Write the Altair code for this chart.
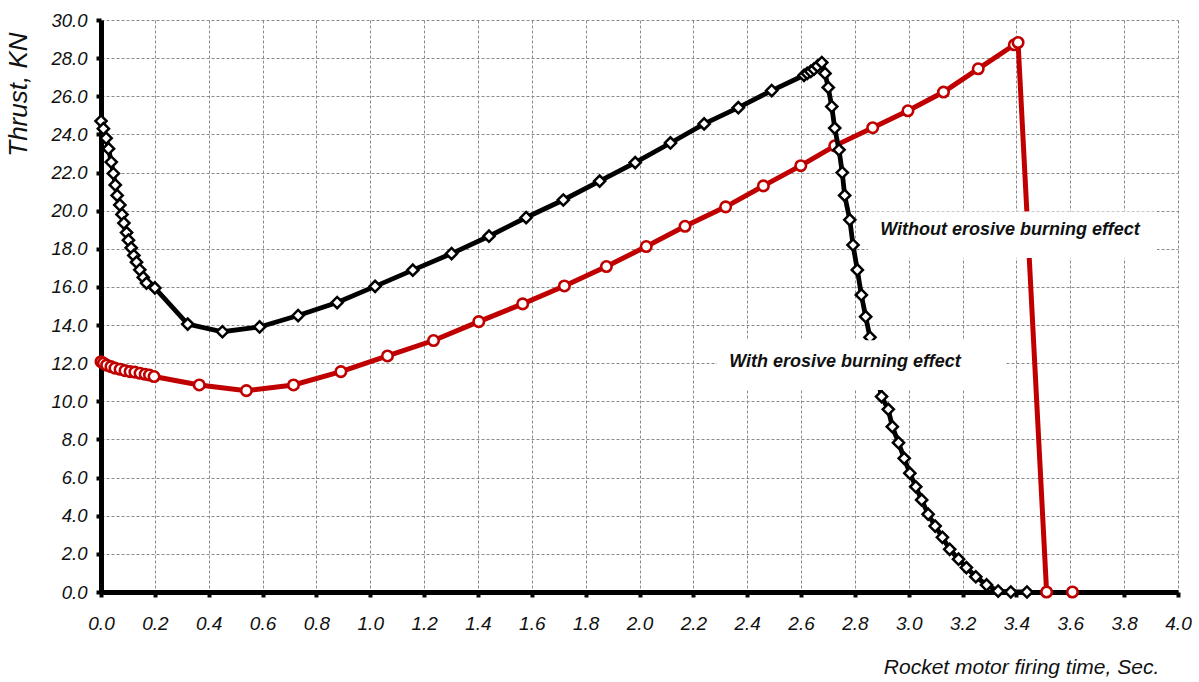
import altair as alt
import pandas as pd

# ---- data ----
black_t = [0.0, 0.009, 0.019, 0.028, 0.038, 0.046, 0.053, 0.060, 0.070, 0.078, 0.085, 0.095,
           0.102, 0.112, 0.122, 0.132, 0.144, 0.157, 0.169, 0.2, 0.322, 0.451, 0.589, 0.732,
           0.877, 1.018, 1.158, 1.302, 1.441, 1.579, 1.717, 1.852, 1.984, 2.115, 2.24, 2.367,
           2.491, 2.611, 2.623, 2.636, 2.648, 2.661, 2.677, 2.689, 2.701, 2.714, 2.725, 2.741,
           2.753, 2.762, 2.781, 2.793, 2.809, 2.824, 2.840, 2.856, 2.866, 2.877, 2.888, 2.899,
           2.924, 2.939, 2.962, 2.983, 3.004, 3.026, 3.048, 3.072, 3.098, 3.125, 3.152, 3.185,
           3.214, 3.249, 3.289, 3.332, 3.379, 3.439]
black_v = [24.7, 24.3, 23.8, 23.25, 22.55, 21.95, 21.35, 20.8, 20.3, 19.8, 19.35, 18.85,
           18.45, 18.05, 17.65, 17.3, 16.9, 16.5, 16.2, 15.95, 14.05, 13.65, 13.9, 14.5,
           15.18, 16.03, 16.88, 17.75, 18.66, 19.64, 20.56, 21.55, 22.52, 23.55, 24.55, 25.4,
           26.3, 27.1, 27.2, 27.3, 27.42, 27.58, 27.77, 27.2, 26.46, 25.46, 24.33, 23.19,
           22.0, 20.8, 19.52, 18.2, 16.89, 15.58, 14.44, 13.36, 12.6, 11.8, 11.0, 10.25,
           9.58, 8.67, 7.83, 7.01, 6.23, 5.52, 4.83, 4.08, 3.46, 2.87, 2.24, 1.72,
           1.28, 0.80, 0.37, 0.05, 0.0, 0.0]

red_t = [0.0, 0.009, 0.021, 0.037, 0.052, 0.071, 0.089, 0.108, 0.126, 0.145, 0.164, 0.180,
         0.197, 0.365, 0.54, 0.715, 0.891, 1.064, 1.235, 1.403, 1.566, 1.721, 1.877, 2.025,
         2.169, 2.32, 2.46, 2.599, 2.725, 2.866, 2.997, 3.129, 3.258, 3.392, 3.406, 3.512, 3.608]
red_v = [12.08, 12.0, 11.9, 11.82, 11.74, 11.68, 11.61, 11.56, 11.53, 11.47, 11.42, 11.38,
         11.3, 10.86, 10.56, 10.86, 11.56, 12.38, 13.19, 14.18, 15.11, 16.05, 17.07, 18.12,
         19.18, 20.2, 21.3, 22.36, 23.4, 24.35, 25.24, 26.22, 27.44, 28.7, 28.82, 0.0, 0.0]

x_ticks = [round(i * 0.2, 1) for i in range(21)]
y_ticks = [float(v) for v in range(0, 31, 2)]

labels = ["Without erosive burning effect", "With erosive burning effect"]
label_t = [3.376, 2.763]
label_v = [18.98, 12.06]
box_t1 = [2.849, 2.288]
box_t2 = [3.922, 3.357]
box_v1 = [17.52, 10.59]
box_v2 = [19.95, 13.21]

black = pd.DataFrame({"t": black_t, "v": black_v})
red = pd.DataFrame({"t": red_t, "v": red_v})
ann = pd.DataFrame({"label": labels, "t": label_t, "v": label_v,
                    "t1": box_t1, "t2": box_t2, "v1": box_v1, "v2": box_v2})

xscale = alt.Scale(domain=[0, 4], nice=False, zero=False)
yscale = alt.Scale(domain=[0, 30], nice=False)

xaxis = alt.Axis(values=x_ticks, tickCount=50, format=".1f", grid=True, gridDash=[3, 2],
                 gridColor="#8a8a8a", gridWidth=1, domainColor="black", domainWidth=5,
                 tickColor="black", tickWidth=4, tickSize=5, labelFont="Liberation Sans",
                 labelFontStyle="italic", labelFontSize=19, labelColor="#111111",
                 labelPadding=17, labelFlush=False, labelOverlap=False, labelBound=False,
                 title="Rocket motor firing time, Sec.", titleFont="Liberation Sans",
                 titleFontStyle="italic", titleFontWeight="normal", titleFontSize=21,
                 titleColor="#111111", titleX=920, titleY=81, titleAlign="center",
                 titleBaseline="alphabetic")
yaxis = alt.Axis(values=y_ticks, tickCount=50, format=".1f", grid=True, gridDash=[3, 2],
                 gridColor="#8a8a8a", gridWidth=1, domainColor="black", domainWidth=5,
                 tickColor="black", tickWidth=4, tickSize=5, labelFont="Liberation Sans",
                 labelFontStyle="italic", labelFontSize=18.5, labelColor="#111111",
                 labelPadding=9, labelFlush=False, labelOverlap=False, labelBound=False,
                 title="Thrust, KN", titleFont="Liberation Sans", titleFontStyle="italic",
                 titleFontWeight="normal", titleFontSize=26, titleColor="#111111",
                 titleAngle=270, titleX=-83, titleY=12, titleAlign="right",
                 titleBaseline="middle")

red_line = alt.Chart(red).transform_filter("datum.t < 3.55").mark_line(
    color="#C00000", strokeWidth=5).encode(
    x=alt.X("t:Q", scale=xscale, axis=xaxis),
    y=alt.Y("v:Q", scale=yscale, axis=yaxis))
red_pts = alt.Chart(red).mark_point(
    shape="circle", size=110, filled=True, fill="white", stroke="#C00000", strokeWidth=2.6,
    opacity=1).encode(x=alt.X("t:Q", scale=xscale), y=alt.Y("v:Q", scale=yscale))

black_line = alt.Chart(black).mark_line(color="black", strokeWidth=4.8).encode(
    x=alt.X("t:Q", scale=xscale), y=alt.Y("v:Q", scale=yscale))
black_pts = alt.Chart(black).mark_point(
    shape="diamond", size=125, filled=True, fill="white", stroke="black", strokeWidth=2.5,
    opacity=1).encode(x=alt.X("t:Q", scale=xscale), y=alt.Y("v:Q", scale=yscale))

boxes = alt.Chart(ann).mark_rect(fill="white").encode(
    x=alt.X("t1:Q", scale=xscale), x2="t2:Q",
    y=alt.Y("v1:Q", scale=yscale), y2="v2:Q")
texts = alt.Chart(ann).mark_text(
    font="Liberation Sans", fontStyle="italic", fontWeight="bold", fontSize=18,
    color="#111111", align="center", baseline="middle").encode(
    x=alt.X("t:Q", scale=xscale), y=alt.Y("v:Q", scale=yscale), text="label:N")

chart = alt.layer(red_line, red_pts, black_line, black_pts, boxes, texts).properties(
    width=1077, height=572,
    autosize=alt.AutoSizeParams(type="none"),
    padding={"left": 101, "top": 20, "right": 21, "bottom": 90},
    background="white",
).configure_view(stroke=None)

chart.save("out.html", embed_options={"renderer": "svg", "actions": False})
